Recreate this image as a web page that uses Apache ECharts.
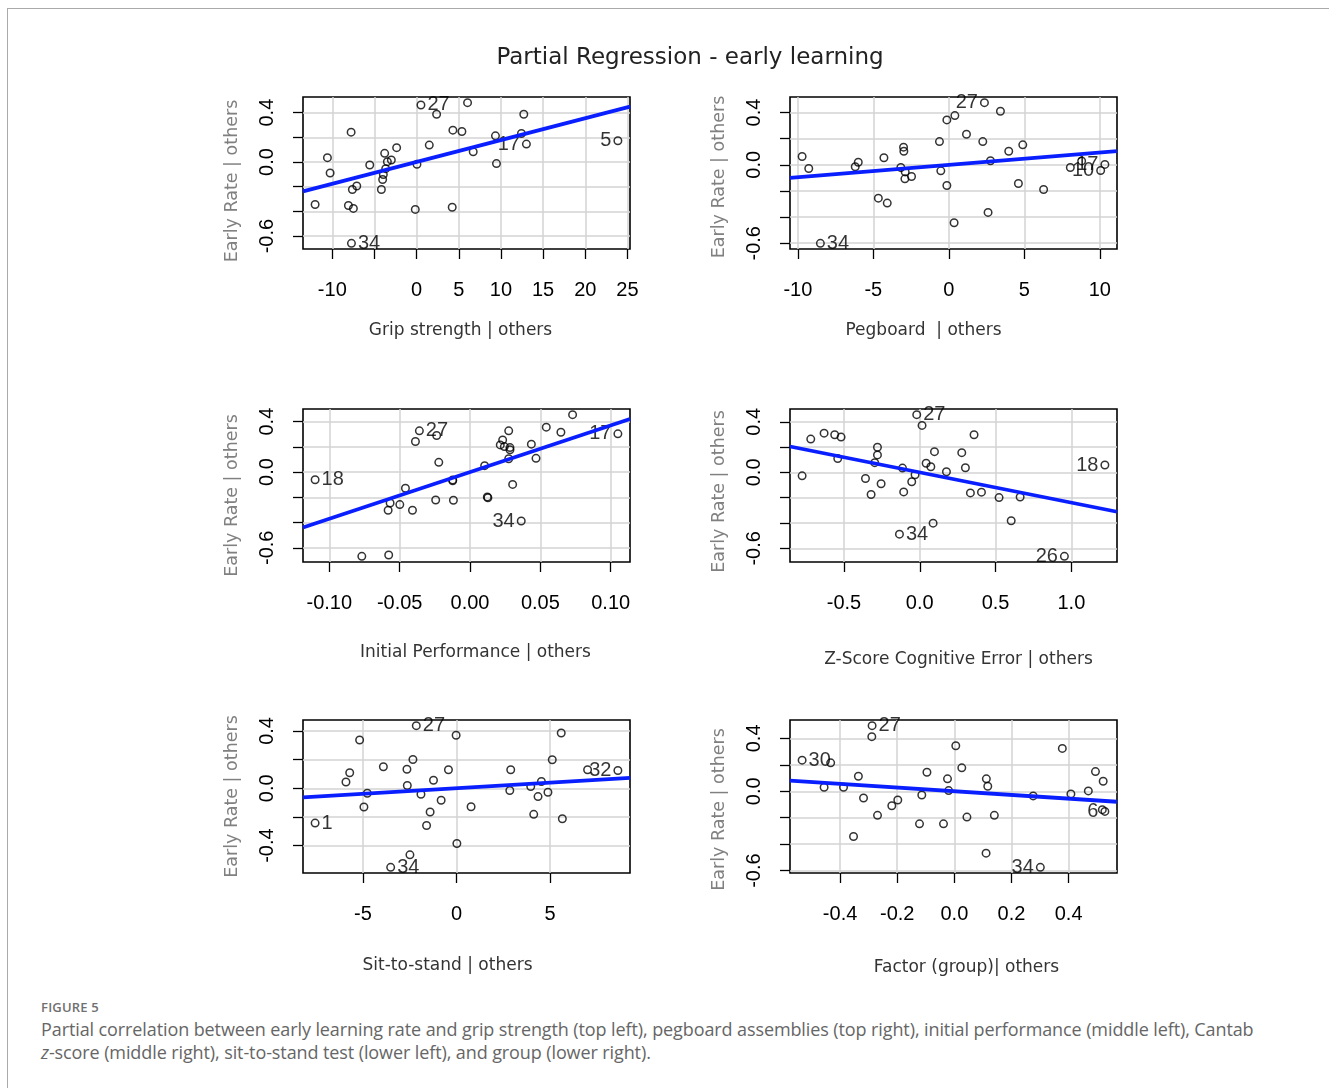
<!DOCTYPE html>
<html>
<head>
<meta charset="utf-8">
<script src="https://cdn.jsdelivr.net/npm/echarts@6/dist/echarts.min.js"></script>
<style>
  html, body { margin: 0; padding: 0; background: #fff; }
  #frame { position: absolute; left: 7px; top: 8px; width: 1340px; height: 1100px;
           border-top: 1px solid #aaa; border-left: 1px solid #aaa; }
  #chart { position: absolute; left: 0; top: 0; width: 1329px; height: 990px; }
  #caption { position: absolute; left: 41px; top: 998px; color: #666;
             font-family: "Open Sans", sans-serif; }
  #caption .fig { font-size: 13px; font-weight: 600; color: #707070; letter-spacing: 0.2px; height: 20px; }
  #caption .txt { font-size: 18px; line-height: 23px; white-space: nowrap; letter-spacing: -0.1px; }
</style>
</head>
<body>
<div id="frame"></div>
<div id="chart"></div>
<div id="caption">
  <div class="fig">FIGURE 5</div>
  <div class="txt">Partial correlation between early learning rate and grip strength (top left), pegboard assemblies (top right), initial performance (middle left), Cantab<br><i>z</i>-score (middle right), sit-to-stand test (lower left), and group (lower right).</div>
</div>
<script>
// residuals "| others" for each panel; labelled points come first (ids)
var gripX = [0.51, 13.02, 23.87, -7.73,
  6.04, 2.37, 12.71, -7.77, 4.30, 5.37, 9.35, 12.43, 1.50, 6.71, -10.58, -10.26, -5.56, -3.79,
  -2.37, -3.0, -3.47, -3.67, -3.95, -4.03, -4.18, 0.04, 9.47, -7.10, -7.62, -12.04, -8.09, -7.50, -0.16, 4.22];
var gripY = [0.462, 0.145, 0.172, -0.659,
  0.481, 0.387, 0.387, 0.242, 0.258, 0.247, 0.212, 0.231, 0.137, 0.083, 0.035, -0.089, -0.024, 0.070,
  0.116, 0.016, 0.003, -0.054, -0.102, -0.142, -0.223, -0.019, -0.013, -0.194, -0.223, -0.344, -0.352, -0.376, -0.384, -0.366];
var gripIds = ['27', '17', '5', '34'];

var pegX = [2.36, 10.34, 10.06, -8.51,
  -9.72, -9.28, -6.0, -6.20, -4.30, -3.0, -2.98, -3.18, -2.89, -2.91, -2.47, -4.67, -4.08, -0.62,
  -0.53, -0.13, 0.40, -0.13, 0.35, 3.42, 1.17, 2.25, 2.76, 2.60, 3.97, 4.90, 4.61, 6.28, 8.05, 8.8];
var pegY = [0.476, 0.003, -0.043, -0.601,
  0.064, -0.028, 0.020, -0.015, 0.054, 0.135, 0.104, -0.020, -0.054, -0.107, -0.089, -0.255, -0.293, 0.178,
  -0.046, 0.344, 0.377, -0.158, -0.443, 0.410, 0.234, 0.178, 0.031, -0.364, 0.104, 0.153, -0.143, -0.189, -0.020, 0.03];
var pegIds = ['27', '17', '10', '34'];

var initX = [-0.1101, -0.036, 0.0364, 0.1051,
  -0.0388, -0.0237, -0.0222, -0.0459, -0.0568, -0.0582, -0.0499, -0.0409, -0.0244, -0.0123, -0.0118, -0.0769,
  -0.0578, 0.0104, 0.0123, 0.0127, 0.0232, 0.0215, 0.0244, 0.0275, 0.0284, 0.0284, 0.0275, 0.0303, 0.0436,
  0.0469, 0.0542, 0.0646, 0.0729, -0.0123];
var initY = [-0.061, 0.327, -0.388, 0.303,
  0.242, 0.290, 0.077, -0.128, -0.245, -0.303, -0.258, -0.303, -0.221, -0.069, -0.223, -0.668,
  -0.657, 0.051, -0.197, -0.204, 0.255, 0.215, 0.202, 0.327, 0.194, 0.176, 0.106, -0.098, 0.221,
  0.109, 0.356, 0.316, 0.455, -0.062];
var initIds = ['18', '27', '34', '17'];

var zscoreX = [-0.020, -0.134, 0.954, 1.221,
  -0.776, -0.719, -0.631, -0.561, -0.519, -0.541, -0.279, -0.279, -0.297, -0.358, -0.321, -0.255, -0.114,
  -0.106, -0.053, -0.031, 0.015, 0.042, 0.073, 0.097, 0.176, 0.277, 0.301, 0.358, 0.334, 0.407, 0.523,
  0.662, 0.603, 0.088];
var zscoreY = [0.456, -0.488, -0.663, 0.058,
  -0.027, 0.263, 0.310, 0.297, 0.279, 0.109, 0.199, 0.138, 0.077, -0.048, -0.175, -0.090, 0.034,
  -0.154, -0.074, -0.019, 0.371, 0.072, 0.045, 0.164, 0.005, 0.156, 0.037, 0.297, -0.162, -0.156, -0.199,
  -0.194, -0.382, -0.401];
var zscoreIds = ['27', '34', '26', '18'];

var sitX = [-7.56, -2.15, -3.52, 8.63,
  -5.18, -5.91, -5.71, -4.77, -4.95, -3.91, -2.65, -2.33, -2.63, -1.90, -1.23, -1.41, -1.60, -0.82, -0.43,
  -0.02, 0.02, -2.49, 0.78, 2.90, 2.85, 3.97, 4.54, 4.36, 4.89, 4.13, 5.12, 5.60, 5.66, 7.01];
var sitY = [-0.243, 0.437, -0.552, 0.124,
  0.337, 0.044, 0.108, -0.035, -0.131, 0.150, 0.133, 0.201, 0.019, -0.042, 0.056, -0.166, -0.260, -0.084, 0.129,
  0.370, -0.386, -0.465, -0.129, 0.129, -0.016, 0.012, 0.047, -0.058, -0.028, -0.182, 0.199, 0.386, -0.213, 0.129];
var sitIds = ['1', '27', '34', '32'];

var groupX = [-0.533, -0.288, 0.301, 0.527,
  -0.433, -0.456, -0.388, -0.336, -0.318, -0.353, -0.289, -0.269, -0.219, -0.198, -0.114, -0.096, -0.122,
  -0.038, -0.024, -0.020, 0.005, 0.026, 0.044, 0.112, 0.117, 0.111, 0.140, 0.276, 0.378, 0.408, 0.469,
  0.494, 0.521, 0.518];
var groupY = [0.235, 0.496, -0.575, -0.152,
  0.215, 0.030, 0.030, 0.114, -0.051, -0.342, 0.413, -0.182, -0.109, -0.066, -0.028, 0.144, -0.246,
  -0.246, 0.094, 0.005, 0.344, 0.177, -0.195, 0.094, 0.038, -0.468, -0.182, -0.035, 0.324, -0.020, 0.003,
  0.149, 0.076, -0.139];
var groupIds = ['30', '27', '34', '6'];

// fitted partial slopes (lines pass through the origin)
var fitSlopes = [0.0177, 0.00944, 3.70, -0.239, 0.00778, -0.139];

var xTitles = ['Grip strength | others', 'Pegboard  | others', 'Initial Performance | others',
  'Z-Score Cognitive Error | others', 'Sit-to-stand | others', 'Factor (group)| others'];
var yTitle = 'Early Rate | others';

var xTicks = [[-10, -5, 0, 5, 10, 15, 20, 25], [-10, -5, 0, 5, 10], [-0.1, -0.05, 0, 0.05, 0.1],
  [-0.5, 0, 0.5, 1.0], [-5, 0, 5], [-0.4, -0.2, 0, 0.2, 0.4]];
var xTickLabels = [[-10, 0, 5, 10, 15, 20, 25], [-10, -5, 0, 5, 10], [-0.1, -0.05, 0, 0.05, 0.1],
  [-0.5, 0, 0.5, 1.0], [-5, 0, 5], [-0.4, -0.2, 0, 0.2, 0.4]];
var xDigits = [0, 0, 2, 1, 0, 1];
var yTicks = [[-0.6, -0.4, -0.2, 0, 0.2, 0.4], [-0.6, -0.4, -0.2, 0, 0.2, 0.4], [-0.6, -0.4, -0.2, 0, 0.2, 0.4],
  [-0.6, -0.4, -0.2, 0, 0.2, 0.4], [-0.4, -0.2, 0, 0.2, 0.4], [-0.6, -0.4, -0.2, 0, 0.2, 0.4]];
var yTickLabels = [[-0.6, 0, 0.4], [-0.6, 0, 0.4], [-0.6, 0, 0.4], [-0.6, 0, 0.4], [-0.4, 0, 0.4], [-0.6, 0, 0.4]];

var panels = [[gripX, gripY, gripIds], [pegX, pegY, pegIds], [initX, initY, initIds],
  [zscoreX, zscoreY, zscoreIds], [sitX, sitY, sitIds], [groupX, groupY, groupIds]];

// box placement of each panel on the page, plus nudges of the axis titles
var layout = [
  {left: 303, top: 97, height: 152, xGap: 73, xShift: -6, yShift: 8},
  {left: 790, top: 97, height: 152, xGap: 73, xShift: -30, yShift: 4},
  {left: 303, top: 409, height: 153, xGap: 82, xShift: 9, yShift: 10},
  {left: 790, top: 409, height: 153, xGap: 89, xShift: 5, yShift: 6},
  {left: 303, top: 720, height: 153, xGap: 84, xShift: -19, yShift: 0},
  {left: 790, top: 720, height: 153, xGap: 86, xShift: 13, yShift: 13}
];

var tickFont = 'Liberation Sans';
var nameFont = 'DejaVu Sans';

var grids = [], xAxes = [], yAxes = [], series = [];

function padRange(vals) {
  var lo = Math.min.apply(null, vals), hi = Math.max.apply(null, vals);
  var p = (hi - lo) * 0.04;
  return [lo - p, hi + p];
}

function shiftPad(s) {
  // centred text moves by half of an uneven side padding
  return s >= 0 ? [0, 0, 0, 2 * s] : [0, -2 * s, 0, 0];
}

panels.forEach(function (p, k) {
  var xs = p[0], ys = p[1], ids = p[2], L = layout[k];
  var xr = padRange(xs), yr = padRange(ys);
  var mid = (xr[0] + xr[1]) / 2;
  grids.push({left: L.left, top: L.top, width: 327, height: L.height, show: true,
    borderColor: '#000', borderWidth: 1.6, backgroundColor: 'transparent'});
  xAxes.push({
    gridIndex: k, type: 'value', min: xr[0], max: xr[1], position: 'bottom',
    axisLine: {show: false, onZero: false},
    axisTick: {show: true, customValues: xTicks[k], length: 10, lineStyle: {color: '#000', width: 1.3}},
    axisLabel: {customValues: xTickLabels[k], margin: 31, fontSize: 20, color: '#000', fontFamily: tickFont,
      formatter: function (v) { return Number(v).toFixed(xDigits[k]); }},
    splitLine: {show: true, lineStyle: {color: '#d3d3d3', width: 1.5}},
    name: xTitles[k], nameLocation: 'middle', nameGap: L.xGap,
    nameTextStyle: {fontSize: 17, color: '#333', fontFamily: nameFont, padding: shiftPad(L.xShift)}
  });
  yAxes.push({
    gridIndex: k, type: 'value', min: yr[0], max: yr[1], position: 'left',
    axisLine: {show: false, onZero: false},
    axisTick: {show: true, customValues: yTicks[k], length: 10, lineStyle: {color: '#000', width: 1.3}},
    axisLabel: {customValues: yTickLabels[k], rotate: 90, margin: 26, fontSize: 20, color: '#000', fontFamily: tickFont,
      formatter: function (v) { return Number(v).toFixed(1); }},
    splitLine: {show: true, lineStyle: {color: '#d3d3d3', width: 1.5}},
    name: yTitle, nameLocation: 'middle', nameRotate: 90, nameGap: 62,
    nameTextStyle: {fontSize: 17.5, color: '#808080', fontFamily: nameFont, padding: [0, 2 * L.yShift, 0, 0]}
  });
  series.push({
    type: 'scatter', xAxisIndex: k, yAxisIndex: k, symbol: 'circle', symbolSize: 7.5, z: 3,
    itemStyle: {color: 'rgba(0,0,0,0)', borderColor: '#000', borderWidth: 1.5},
    label: {color: '#000', fontSize: 20, fontFamily: tickFont, distance: 2},
    data: xs.map(function (x, i) {
      var item = {value: [x, ys[i]]};
      if (i < ids.length) {
        item.label = {show: true, formatter: ids[i], position: x > mid ? 'left' : 'right'};
      }
      return item;
    })
  });
  series.push({
    type: 'line', xAxisIndex: k, yAxisIndex: k, symbol: 'none', z: 4,
    lineStyle: {color: '#0a1fff', width: 3.8},
    data: [[xr[0], fitSlopes[k] * xr[0]], [xr[1], fitSlopes[k] * xr[1]]]
  });
});

var chart = echarts.init(document.getElementById('chart'));
chart.setOption({
  animation: false,
  backgroundColor: 'transparent',
  title: {text: 'Partial Regression - early learning', left: 685, top: 42, textAlign: 'center',
    textStyle: {fontSize: 23, fontWeight: 'normal', color: '#222', fontFamily: nameFont}},
  grid: grids, xAxis: xAxes, yAxis: yAxes, series: series
});
</script>
</body>
</html>
